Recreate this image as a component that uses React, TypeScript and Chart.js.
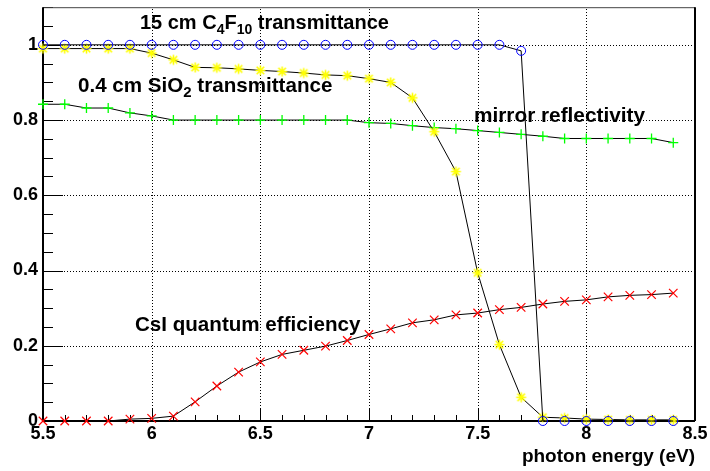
import React, { useEffect, useRef } from 'react';
import { Chart, registerables } from 'chart.js';

Chart.register(...registerables);

const energies = [5.5, 5.6, 5.7, 5.8, 5.9, 6.0, 6.1, 6.2, 6.3, 6.4, 6.5, 6.6, 6.7, 6.8, 6.9, 7.0, 7.1, 7.2, 7.3, 7.4, 7.5, 7.6, 7.7, 7.8, 7.9, 8.0, 8.1, 8.2, 8.3, 8.4];
const c4f10Transmittance = [1, 1, 1, 1, 1, 1, 1, 1, 1, 1, 1, 1, 1, 1, 1, 1, 1, 1, 1, 1, 1, 1, 0.984, 0, 0, 0, 0, 0, 0, 0];
const sio2Transmittance = [0.99, 0.99, 0.99, 0.99, 0.99, 0.978, 0.96, 0.94, 0.939, 0.936, 0.932, 0.929, 0.925, 0.92, 0.918, 0.91, 0.9, 0.859, 0.769, 0.663, 0.394, 0.203, 0.063, 0.01, 0.008, 0.005, 0.004, 0.003, 0.003, 0.003];
const mirrorReflectivity = [0.842, 0.842, 0.832, 0.832, 0.819, 0.811, 0.8, 0.8, 0.8, 0.8, 0.8, 0.8, 0.8, 0.8, 0.8, 0.793, 0.791, 0.785, 0.78, 0.777, 0.772, 0.767, 0.762, 0.757, 0.751, 0.751, 0.751, 0.751, 0.751, 0.74];
const csiQuantumEfficiency = [0, 0, 0, 0, 0.005, 0.007, 0.013, 0.051, 0.093, 0.13, 0.157, 0.177, 0.188, 0.199, 0.214, 0.23, 0.245, 0.261, 0.269, 0.282, 0.287, 0.296, 0.302, 0.311, 0.318, 0.322, 0.33, 0.334, 0.336, 0.34];

const xTickValues = [5.5, 6, 6.5, 7, 7.5, 8, 8.5];
const xTickLabels = ['5.5', '6', '6.5', '7', '7.5', '8', '8.5'];
const yTickValues = [0, 0.2, 0.4, 0.6, 0.8, 1];
const yTickLabels = ['0', '0.2', '0.4', '0.6', '0.8', '1'];
const xAxisTitle = 'photon energy (eV)';

// text pieces: [text, isSubscript]
const c4f10Label: [string, boolean][] = [['15 cm C', false], ['4', true], ['F', false], ['10', true], [' transmittance', false]];
const sio2Label: [string, boolean][] = [['0.4 cm SiO', false], ['2', true], [' transmittance', false]];
const mirrorLabel: [string, boolean][] = [['mirror reflectivity', false]];
const csiLabel: [string, boolean][] = [['CsI quantum efficiency', false]];

const FONT = "'Liberation Sans', Arial, Helvetica, sans-serif";

const annotations = [
  { parts: c4f10Label, x: 5.946, y: 1.041, size: 20 },
  { parts: sio2Label, x: 5.661, y: 0.874, size: 20.6 },
  { parts: mirrorLabel, x: 7.483, y: 0.794, size: 20.8 },
  { parts: csiLabel, x: 5.923, y: 0.24, size: 20.6 },
];

function pts(ys: number[]) {
  return energies.map((x, i) => ({ x, y: ys[i] }));
}

function makeStar(color: string) {
  const c = document.createElement('canvas');
  c.width = 13;
  c.height = 13;
  const g = c.getContext('2d')!;
  g.strokeStyle = color;
  g.lineWidth = 1.6;
  const r = 5;
  const cx = 6.5;
  const cy = 6.5;
  g.beginPath();
  g.moveTo(cx - r, cy); g.lineTo(cx + r, cy);
  g.moveTo(cx, cy - r); g.lineTo(cx, cy + r);
  const d = r * 0.75;
  g.moveTo(cx - d, cy - d); g.lineTo(cx + d, cy + d);
  g.moveTo(cx - d, cy + d); g.lineTo(cx + d, cy - d);
  g.stroke();
  return c;
}

const framePlugin = {
  id: 'rootFrame',
  beforeDatasetsDraw(chart: any) {
    const { ctx, chartArea, scales } = chart;
    const xs = scales.x;
    const ys = scales.y;
    const { left, right, top, bottom } = chartArea;
    ctx.save();
    ctx.strokeStyle = '#000';
    ctx.lineWidth = 1;
    ctx.setLineDash([1, 2]);
    for (const v of xTickValues) {
      if (v <= 5.5 || v >= 8.5) continue;
      const px = Math.round(xs.getPixelForValue(v)) + 0.5;
      ctx.beginPath();
      ctx.moveTo(px, bottom);
      ctx.lineTo(px, top);
      ctx.stroke();
    }
    for (const v of yTickValues) {
      if (v <= 0) continue;
      const py = Math.round(ys.getPixelForValue(v)) + 0.5;
      ctx.beginPath();
      ctx.moveTo(left, py);
      ctx.lineTo(right, py);
      ctx.stroke();
    }
    ctx.setLineDash([]);
    ctx.lineWidth = 1;
    for (let i = 0; i <= 22; i++) {
      const v = i * 0.05;
      const py = Math.round(ys.getPixelForValue(v)) + 0.5;
      const major = i % 4 === 0;
      ctx.beginPath();
      ctx.moveTo(left, py);
      ctx.lineTo(left + (major ? 20 : 10), py);
      ctx.stroke();
    }
    for (let i = 0; i <= 30; i++) {
      const v = 5.5 + i * 0.1;
      const px = Math.round(xs.getPixelForValue(v)) + 0.5;
      const major = i % 5 === 0;
      ctx.beginPath();
      ctx.moveTo(px, bottom);
      ctx.lineTo(px, bottom - (major ? 12.5 : 6));
      ctx.stroke();
    }
    ctx.strokeStyle = '#444';
    ctx.lineWidth = 1;
    ctx.beginPath();
    ctx.moveTo(left, top + 0.5);
    ctx.lineTo(right, top + 0.5);
    ctx.stroke();
    ctx.strokeStyle = '#000';
    ctx.lineWidth = 2;
    ctx.beginPath();
    ctx.moveTo(right, top);
    ctx.lineTo(right, bottom);
    ctx.stroke();
    ctx.beginPath();
    ctx.moveTo(left, top);
    ctx.lineTo(left, bottom);
    ctx.lineTo(right, bottom);
    ctx.stroke();
    ctx.restore();
  },
  afterDraw(chart: any) {
    const { ctx, scales, chartArea } = chart;
    ctx.save();
    ctx.fillStyle = '#000';
    ctx.textBaseline = 'alphabetic';
    ctx.textAlign = 'left';
    for (const a of annotations) {
      const size = a.size;
      let px = scales.x.getPixelForValue(a.x);
      const py = scales.y.getPixelForValue(a.y);
      for (const [t, sub] of a.parts) {
        ctx.font = `bold ${sub ? Math.round(size * 0.72) : size}px ${FONT}`;
        ctx.fillText(t, px, py + (sub ? 5 : 0));
        px += ctx.measureText(t).width;
      }
    }
    ctx.font = `bold 19px ${FONT}`;
    ctx.textAlign = 'right';
    ctx.fillText(xAxisTitle, chartArea.right, 462);
    ctx.restore();
  },
};

export default function App() {
  const ref = useRef<HTMLCanvasElement>(null);
  useEffect(() => {
    document.body.style.margin = '0';
    const canvas = ref.current!;
    const common = {
      borderColor: '#000',
      borderWidth: 1,
      tension: 0,
      showLine: true,
      clip: false as any,
      pointHoverRadius: 0,
    };
    const chart = new Chart(canvas, {
      type: 'line',
      data: {
        datasets: [
          { ...common, label: 'C4F10', data: pts(c4f10Transmittance), pointStyle: 'circle', pointRadius: 4.5, pointBorderColor: '#0000ff', pointBackgroundColor: 'rgba(0,0,0,0)', pointBorderWidth: 1 },
          { ...common, label: 'SiO2', data: pts(sio2Transmittance), pointStyle: makeStar('#ffff00'), pointRadius: 6, pointBorderColor: '#ffff00', pointBackgroundColor: '#ffff00' },
          { ...common, label: 'mirror', data: pts(mirrorReflectivity), pointStyle: 'cross', pointRadius: 5, pointBorderColor: '#00ff00', pointBackgroundColor: '#00ff00', pointBorderWidth: 1.3 },
          { ...common, label: 'CsI', data: pts(csiQuantumEfficiency), pointStyle: 'crossRot', pointRadius: 6, pointBorderColor: '#ff0000', pointBackgroundColor: '#ff0000', pointBorderWidth: 1.2 },
        ] as any,
      },
      options: {
        responsive: false,
        animation: false,
        devicePixelRatio: 1,
        layout: { padding: { top: 4, right: 15, left: 0, bottom: 0 } },
        plugins: { legend: { display: false }, tooltip: { enabled: false } },
        events: [],
        scales: {
          x: {
            type: 'linear',
            min: 5.5,
            max: 8.5,
            afterBuildTicks: (s: any) => { s.ticks = xTickValues.map((v) => ({ value: v })); },
            afterFit: (s: any) => { s.height = 50; s.paddingLeft = 0; s.paddingRight = 0; },
            grid: { display: false, drawTicks: false },
            border: { display: false },
            ticks: {
              color: '#000',
              padding: 2,
              maxRotation: 0,
              autoSkip: false,
              font: { family: FONT, size: 18, weight: 'bold' },
              callback: (v: any) => { const i = xTickValues.findIndex((t) => Math.abs(t - v) < 1e-6); return i >= 0 ? xTickLabels[i] : ''; },
            },
          },
          y: {
            type: 'linear',
            min: 0,
            max: 1.1,
            afterBuildTicks: (s: any) => { s.ticks = yTickValues.map((v) => ({ value: v })); },
            afterFit: (s: any) => { s.width = 43; s.paddingTop = 0; s.paddingBottom = 0; },
            grid: { display: false, drawTicks: false },
            border: { display: false },
            ticks: {
              color: '#000',
              padding: 5,
              font: { family: FONT, size: 18, weight: 'bold' },
              callback: (v: any) => { const i = yTickValues.findIndex((t) => Math.abs(t - v) < 1e-6); return i >= 0 ? yTickLabels[i] : ''; },
            },
          },
        },
      } as any,
      plugins: [framePlugin],
    });
    return () => chart.destroy();
  }, []);
  return <canvas ref={ref} width={710} height={471} style={{ display: 'block' }} />;
}
